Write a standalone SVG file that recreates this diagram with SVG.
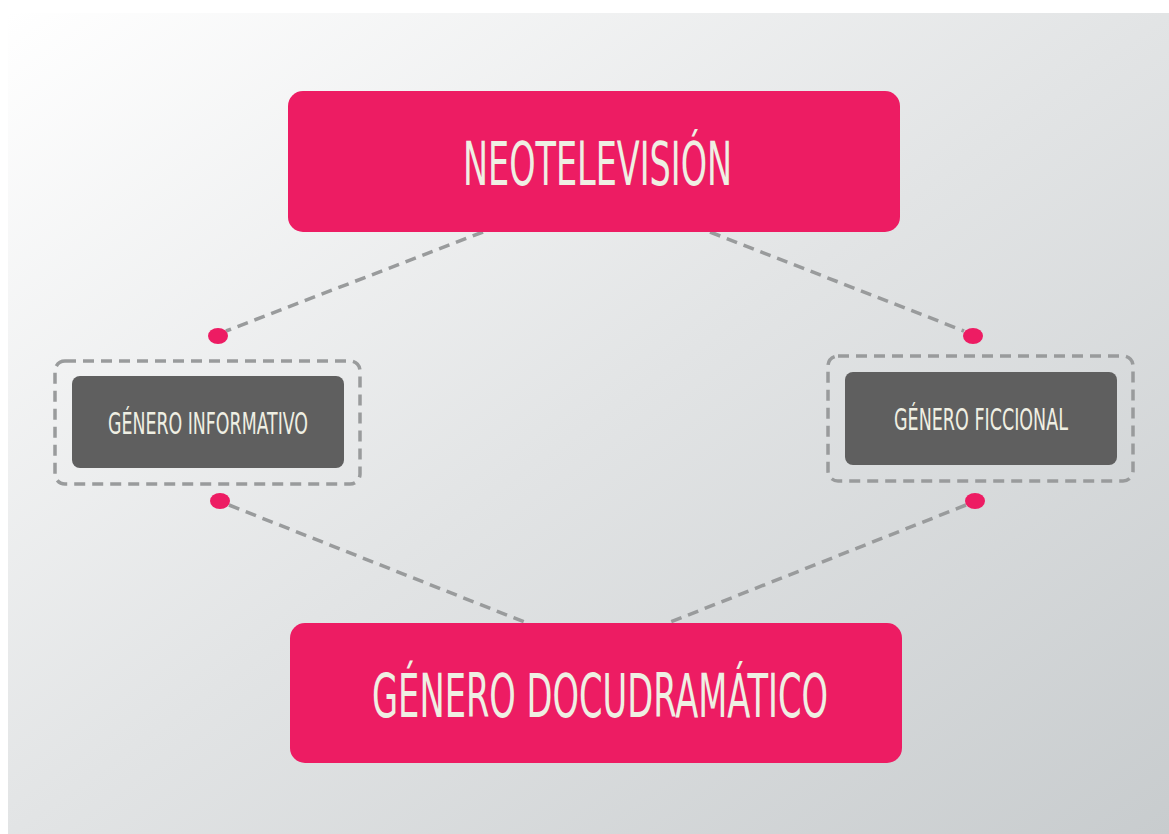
<svg xmlns="http://www.w3.org/2000/svg" width="1169" height="834" viewBox="0 0 1169 834">
<defs>
<linearGradient id="bg" x1="0" y1="0" x2="1" y2="1">
<stop offset="0" stop-color="#FFFFFF"/>
<stop offset="0.5" stop-color="#E2E4E5"/>
<stop offset="1" stop-color="#C8CCCE"/>
</linearGradient>
<style>
.main{fill:#ED1C63;}
.sub{fill:#5F5F5F;}
.frame{fill:none;stroke:#999B9C;stroke-width:3.5;stroke-dasharray:11 7;}
.link{fill:none;stroke:#999B9C;stroke-width:3.5;stroke-dasharray:11 7;}
.dot{fill:#ED1C63;}
.t{font-family:"DejaVu Sans Condensed","DejaVu Sans","Liberation Sans Narrow",sans-serif;fill:#EFEFE3;text-anchor:start;}
</style>
</defs>
<rect x="0" y="0" width="1169" height="834" fill="#FFFFFF"/>
<rect x="8" y="13" width="1161" height="821" fill="url(#bg)"/>
<g id="connectors">
<line class="link" x1="483" y1="232" x2="226" y2="331"/>
<line class="link" x1="710" y1="232" x2="964" y2="331"/>
<line class="link" x1="229" y1="505" x2="527" y2="623"/>
<line class="link" x1="966" y1="505" x2="668" y2="623"/>
<ellipse class="dot" cx="218" cy="336" rx="10" ry="8"/>
<ellipse class="dot" cx="220" cy="501" rx="10" ry="8"/>
<ellipse class="dot" cx="973" cy="336" rx="10" ry="8"/>
<ellipse class="dot" cx="975" cy="501" rx="10" ry="8"/>
</g>
<g id="neotelevision">
<rect class="main" x="288" y="91" width="612" height="141" rx="15"/>
<text class="t" x="463" y="185" font-size="60" textLength="269" lengthAdjust="spacingAndGlyphs">NEOTELEVISIÓN</text>
</g>
<g id="informativo">
<rect class="frame" x="55" y="361" width="305" height="123" rx="10"/>
<rect class="sub" x="72" y="376" width="272" height="92" rx="8"/>
<text class="t" x="108" y="434" font-size="30" textLength="200" lengthAdjust="spacingAndGlyphs">GÉNERO INFORMATIVO</text>
</g>
<g id="ficcional">
<rect class="frame" x="828" y="356" width="305" height="125" rx="10"/>
<rect class="sub" x="845" y="372" width="272" height="93" rx="8"/>
<text class="t" x="894" y="430" font-size="30" textLength="174" lengthAdjust="spacingAndGlyphs">GÉNERO FICCIONAL</text>
</g>
<g id="docudramatico">
<rect class="main" x="290" y="623" width="612" height="140" rx="15"/>
<text class="t" x="372" y="717" font-size="61" textLength="456" lengthAdjust="spacingAndGlyphs">GÉNERO DOCUDRAMÁTICO</text>
</g>
</svg>
